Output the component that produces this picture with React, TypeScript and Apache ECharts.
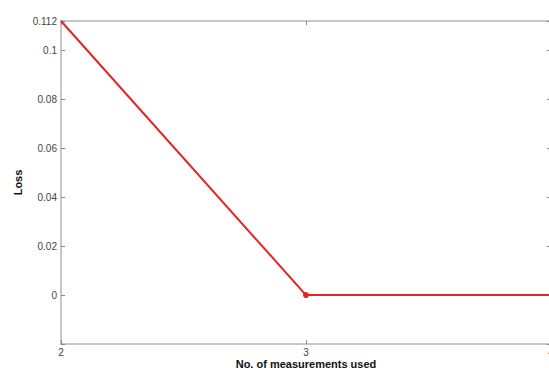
import React, { useEffect, useRef } from "react";
import * as echarts from "echarts";

const measurements = [2, 3, 4];
const lossValues = [0.112, 0, 0];
const yMin = -0.02;
const yMax = 0.112;
const yInterval = 0.02;
const xMin = 2;
const xMax = 4;

const axisGray = "#b4b4b4";
const labelColor = "#444";
const lineRed = "#e52421";
const font = "'Liberation Sans', Arial, sans-serif";

export default function App() {
  const ref = useRef<HTMLDivElement>(null);
  useEffect(() => {
    if (!ref.current) return;
    const chart = echarts.init(ref.current, null, { renderer: "svg" });
    const data = measurements.map((x, i) => [x, lossValues[i]]);
    chart.setOption({
      animation: false,
      backgroundColor: "#fff",
      grid: {
        left: 61,
        top: 21,
        bottom: 24,
        right: 2,
        containLabel: false,
        outerBoundsMode: "none",
      },
      xAxis: [
        {
          type: "value",
          min: xMin,
          max: xMax,
          interval: 1,
          name: "No. of measurements used",
          nameLocation: "middle",
          nameGap: 14,
          nameMoveOverlap: false,
          nameTextStyle: { fontFamily: font, fontWeight: "bold", fontSize: 11, lineHeight: 11, color: "#111" },
          axisLine: { show: true, onZero: false, lineStyle: { color: axisGray, width: 1.5 } },
          axisTick: { show: true, inside: true, length: 4, lineStyle: { color: "#888" } },
          axisLabel: { fontFamily: font, fontSize: 10, lineHeight: 10, color: labelColor, margin: 3 },
          splitLine: { show: false },
        },
        {
          type: "value",
          position: "top",
          min: xMin,
          max: xMax,
          interval: 1,
          axisLine: { show: true, onZero: false, lineStyle: { color: axisGray, width: 1.5 } },
          axisTick: { show: true, inside: true, length: 4, lineStyle: { color: "#888" } },
          axisLabel: { show: false },
          splitLine: { show: false },
        },
      ],
      yAxis: [
        {
          type: "value",
          min: yMin,
          max: yMax,
          interval: yInterval,
          name: "Loss",
          nameLocation: "middle",
          nameGap: 38,
          nameMoveOverlap: false,
          nameTextStyle: { fontFamily: font, fontWeight: "bold", fontSize: 11, color: "#111" },
          axisLine: { show: true, onZero: false, lineStyle: { color: axisGray, width: 1.5 } },
          axisTick: { show: true, inside: true, length: 4, lineStyle: { color: "#888" } },
          axisLabel: {
            fontFamily: font,
            fontSize: 10,
            color: labelColor,
            margin: 4,
            formatter: (v: number) => (Math.abs(v - yMin) < 1e-9 ? "" : String(+v.toFixed(3))),
          },
          splitLine: { show: false },
        },
        {
          type: "value",
          position: "right",
          min: yMin,
          max: yMax,
          interval: yInterval,
          axisLine: { show: true, onZero: false, lineStyle: { color: axisGray, width: 1.5 } },
          axisTick: { show: true, inside: true, length: 4, lineStyle: { color: "#888" } },
          axisLabel: { show: false },
          splitLine: { show: false },
        },
      ],
      series: [
        {
          type: "line",
          data,
          xAxisIndex: 0,
          yAxisIndex: 0,
          symbol: "circle",
          symbolSize: (_v: any, p: any) => (p.dataIndex === 1 ? 6 : 0),
          showSymbol: true,
          lineStyle: { color: lineRed, width: 2 },
          itemStyle: { color: lineRed },
          clip: false,
        },
      ],
    });
    return () => chart.dispose();
  }, []);
  return (
    <div
      ref={ref}
      style={{ position: "fixed", left: 0, top: 0, width: 553, height: 368 }}
    />
  );
}
